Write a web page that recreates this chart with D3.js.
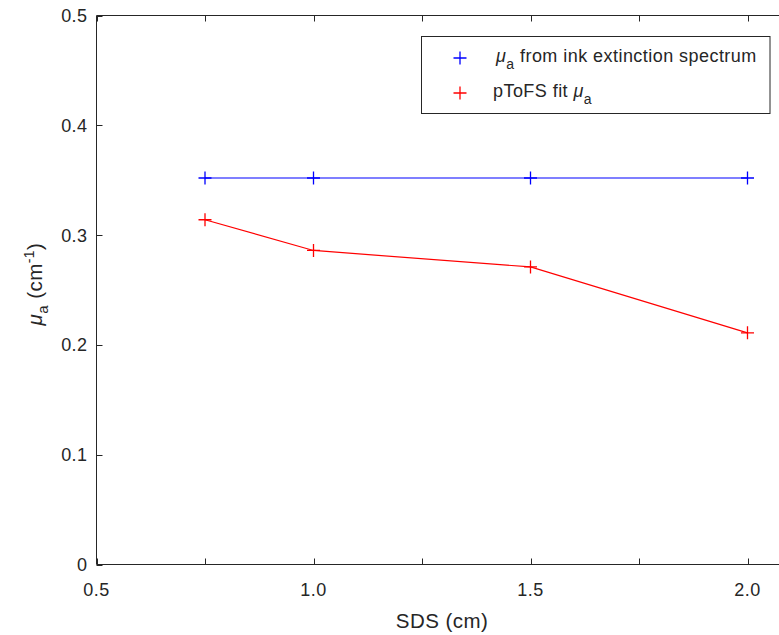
<!DOCTYPE html>
<html>
<head>
<meta charset="utf-8">
<script src="https://cdn.jsdelivr.net/npm/d3@7"></script>
<style>
  body { margin: 0; background: #fff; }
  svg { display: block; font-family: "Liberation Sans", Arial, sans-serif; }
  text { fill: #262626; letter-spacing: 0.45px; }
</style>
</head>
<body>
<div id="chart"></div>
<script>
// SDS values and absorption coefficients
const sds = [0.75, 1.0, 1.5, 2.0];
const muaInk = [0.352, 0.352, 0.352, 0.352];
const muaFit = [0.314, 0.286, 0.271, 0.211];
const xTicks = [0.5, 0.75, 1.0, 1.25, 1.5, 1.75, 2.0];
const xLabels = [0.5, 1.0, 1.5, 2.0];
const yTicks = [0, 0.1, 0.2, 0.3, 0.4, 0.5];

const width = 779;
const height = 635;
const plotLeft = 96.5, plotTop = 15.5, plotBottom = 564.5;

const svg = d3.select("#chart")
  .append("svg")
  .attr("width", width)
  .attr("height", height);

// Scales
const x = d3.scaleLinear().domain([0.5, 2.1]).range([plotLeft, plotLeft + 1.6 * 434]);
const y = d3.scaleLinear().domain([0, 0.5]).range([plotBottom, plotTop]);

const axisColor = "#262626";

// Box (right edge falls outside the canvas)
svg.append("path")
  .attr("d", `M${x(2.1)},${plotTop}H${plotLeft}V${plotBottom}H${x(2.1)}`)
  .attr("fill", "none")
  .attr("stroke", axisColor)
  .attr("stroke-width", 1);

// x ticks bottom + top
xTicks.forEach(t => {
  const px = Math.round(x(t)) + 0.5;
  svg.append("line").attr("x1", px).attr("x2", px).attr("y1", plotBottom).attr("y2", plotBottom - 6)
    .attr("stroke", axisColor);
  svg.append("line").attr("x1", px).attr("x2", px).attr("y1", plotTop).attr("y2", plotTop + 6)
    .attr("stroke", axisColor);
});
svg.selectAll(".xlab")
  .data(xLabels)
  .enter()
  .append("text")
  .attr("x", d => x(d))
  .attr("y", 596)
  .attr("text-anchor", "middle")
  .attr("font-size", "18px")
  .text(d => d3.format(".1f")(d));

// y ticks
yTicks.forEach(t => {
  const py = Math.round(y(t)) + 0.5;
  svg.append("line").attr("x1", plotLeft).attr("x2", plotLeft + 6).attr("y1", py).attr("y2", py)
    .attr("stroke", axisColor);
});
svg.selectAll(".ylab")
  .data(yTicks)
  .enter()
  .append("text")
  .attr("x", 87.5)
  .attr("y", d => y(d) + 6.5)
  .attr("text-anchor", "end")
  .attr("font-size", "18px")
  .text(d => d === 0 ? "0" : d3.format(".1f")(d));

// Axis labels
svg.append("text")
  .attr("x", 442)
  .attr("y", 628)
  .attr("text-anchor", "middle")
  .attr("font-size", "20.5px")
  .text("SDS (cm)");

const yl = svg.append("text")
  .attr("transform", "translate(42, 284) rotate(-90)")
  .attr("text-anchor", "middle")
  .attr("font-size", "20.5px");
yl.append("tspan").attr("font-style", "italic").text("μ");
yl.append("tspan").attr("font-size", "15px").attr("dy", 6).text("a");
yl.append("tspan").attr("dy", -6).text(" (cm");
yl.append("tspan").attr("font-size", "14px").attr("dy", -8).text("-1");
yl.append("tspan").attr("dy", 8).text(")");

// Series
const series = [
  { values: muaInk, color: "#0000ff" },
  { values: muaFit, color: "#ff0000" }
];

const line = d3.line().x(d => x(d[0])).y(d => y(d[1]));

function plusPath(cx, cy, s) {
  return `M${cx - s},${cy}H${cx + s}M${cx},${cy - s}V${cy + s}`;
}

series.forEach(s => {
  const pts = sds.map((v, i) => [v, s.values[i]]);
  svg.append("path")
    .attr("d", line(pts))
    .attr("fill", "none")
    .attr("stroke", s.color)
    .attr("stroke-width", 1.2);
  svg.append("g")
    .selectAll("path")
    .data(pts)
    .enter()
    .append("path")
    .attr("d", d => plusPath(x(d[0]), y(d[1]), 6.5))
    .attr("stroke", s.color)
    .attr("stroke-width", 1.3)
    .attr("fill", "none");
});

// Legend
svg.append("rect")
  .attr("x", 421.5)
  .attr("y", 36.5)
  .attr("width", 348.5)
  .attr("height", 77)
  .attr("fill", "#fff")
  .attr("stroke", axisColor)
  .attr("stroke-width", 1);

const legendRows = [
  { color: "#0000ff", y: 58 },
  { color: "#ff0000", y: 93 }
];
legendRows.forEach(r => {
  svg.append("path")
    .attr("d", plusPath(460, r.y, 6.5))
    .attr("stroke", r.color)
    .attr("stroke-width", 1.3);
});

const t1 = svg.append("text").attr("x", 496).attr("y", 62).attr("font-size", "18px");
t1.append("tspan").attr("font-style", "italic").text("μ");
t1.append("tspan").attr("font-size", "14px").attr("dy", 7).text("a");
t1.append("tspan").attr("dy", -7).text(" from ink extinction spectrum");

const t2 = svg.append("text").attr("x", 493).attr("y", 97).attr("font-size", "18px");
t2.append("tspan").text("pToFS fit ");
t2.append("tspan").attr("font-style", "italic").text("μ");
t2.append("tspan").attr("font-size", "14px").attr("dy", 7).text("a");
</script>
</body>
</html>
